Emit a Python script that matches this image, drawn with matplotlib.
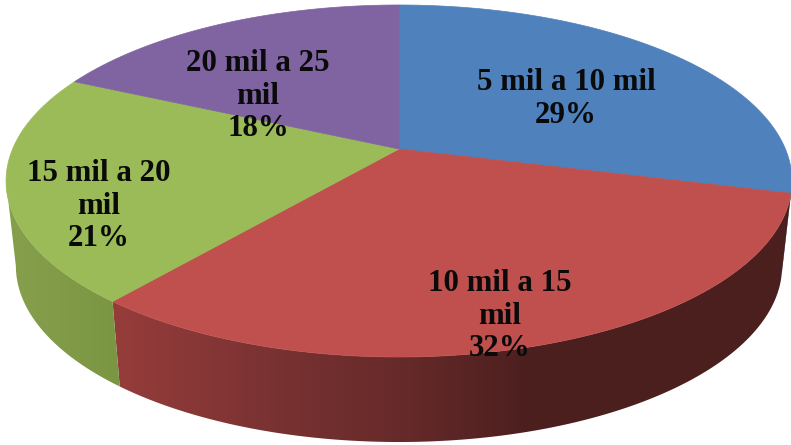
import numpy as np
import matplotlib
matplotlib.use("Agg")
import matplotlib.pyplot as plt
from matplotlib.patches import Polygon

categories = ["5 mil a 10 mil", "10 mil a 15\nmil", "15 mil a 20\nmil", "20 mil a 25\nmil"]
values = [29, 32, 21, 18]
top_colors = ["#4F81BD", "#C0504D", "#9BBB59", "#8064A2"]
label_pos = [(566, 99), (500, 316), (99, 206), (258, 96)]

# side shading stops: x pixel -> rgb
side_x = [[0, 800], [100, 270, 400, 530, 800], [0, 120], [0, 800]]
side_rgb = [
    [(58, 92, 135), (58, 92, 135)],
    [(152, 62, 60), (122, 50, 50), (103, 42, 42), (75, 31, 30), (74, 32, 30)],
    [(135, 160, 78), (123, 150, 66)],
    [(95, 74, 120), (95, 74, 120)],
]

CX, CY, K, P, A = 399.0, 149.0, 0.1818, -143.1, 386.4
DEPTH, SHRINK = 85.0, 0.975


def project(theta):
    """Perspective projection of the unit-circle rim (theta clockwise from the top)."""
    u, v = np.sin(theta), np.cos(theta)
    d = 1 + K * v
    return CX + A * u / d, (CY + P * v) / d


def lower(x, y):
    return CX + SHRINK * (x - CX), y + DEPTH


fig = plt.figure(figsize=(7.91, 4.45), dpi=100, facecolor="white")
ax = fig.add_axes([0, 0, 1, 1])
ax.set_xlim(0, 791)
ax.set_ylim(445, 0)
ax.axis("off")

edges = np.concatenate([[0], np.cumsum(values)]) / sum(values) * 2 * np.pi
columns = np.arange(0, 791) + 0.5

# the rim is visible only between its rightmost and leftmost points
rim = np.linspace(0, 2 * np.pi, 3601)
rim_x = project(rim)[0]
front_start, front_end = rim[np.argmax(rim_x)], rim[np.argmin(rim_x)]

# sides: a horizontal colour ramp clipped to each wedge's outer wall
for i in range(len(values)):
    lo, hi = max(edges[i], front_start), min(edges[i + 1], front_end)
    if hi <= lo:
        continue
    th = np.linspace(lo, hi, 200)
    x, y = project(th)
    xb, yb = lower(x, y)
    wall = Polygon(np.column_stack([np.r_[x, xb[::-1]], np.r_[y, yb[::-1]]]), closed=True,
                   facecolor="none", edgecolor="none", transform=ax.transData)
    ax.add_patch(wall)
    rgb = np.array(side_rgb[i], float)
    ramp = np.stack([np.interp(columns, side_x[i], rgb[:, c]) for c in range(3)], axis=-1)[None, :, :] / 255
    im = ax.imshow(ramp, extent=(0, 791, 445, 0), aspect="auto", interpolation="bilinear", zorder=1)
    im.set_clip_path(wall)
ax.set_xlim(0, 791)
ax.set_ylim(445, 0)

# top faces
for i, c in enumerate(top_colors):
    th = np.linspace(edges[i], edges[i + 1], 200)
    x, y = project(th)
    pts = np.column_stack([np.r_[CX, x], np.r_[CY, y]])
    ax.add_patch(Polygon(pts, closed=True, facecolor=c, edgecolor=c, linewidth=0.5, zorder=2))

# labels
for cat, v, (lx, ly) in zip(categories, values, label_pos):
    ax.text(lx, ly, f"{cat}\n{v}%", ha="center", va="center", ma="center",
            family="Liberation Serif", weight="bold", fontsize=22.2, color="#0a0a0a",
            linespacing=1.17, zorder=3)

fig.savefig("out.png", dpi=100, facecolor="white")
